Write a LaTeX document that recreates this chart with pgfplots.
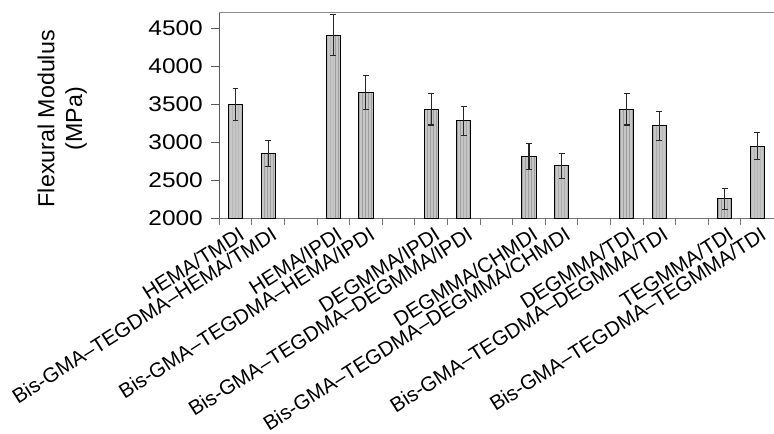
\documentclass[border=0pt]{standalone}
\usepackage{fontspec}
\setmainfont{Liberation Sans}
\newfontfamily\tickfont[FakeStretch=1.15]{Liberation Sans}
\usepackage{pgfplots}
\pgfplotsset{compat=1.18}
\usetikzlibrary{patterns,calc}
\pgfplotstableread{
x y e
0 3494 212
1 2850 170
3 4409 265
4 3655 220
6 3434 208
7 3282 193
9 2815 170
10 2689 160
12 3434 208
13 3217 190
15 2256 135
16 2949 180
}\datatab
\begin{document}
\begin{tikzpicture}
\begin{axis}[
  scale only axis,
  width=560.6pt, height=207.8pt,
  xmin=-0.5, xmax=16.5,
  ymin=2000, ymax=4700,
  axis x line*=bottom, axis y line*=left,
  x axis line style={draw=black!55, line width=1pt},
  y axis line style={draw=black!65, line width=1pt},
  tick align=outside,
  ytick={2000,2500,...,4500},
  major tick length=8pt,
  ytick style={draw=black!65, line width=1pt},
  yticklabel style={font=\tickfont\fontsize{21.5}{26}\selectfont, /pgf/number format/1000 sep={}, xshift=-5pt},
  /pgf/number format/assume math mode=true,
  xtick={0,1,3,4,6,7,9,10,12,13,15,16},
  xticklabels={HEMA/TMDI, Bis-GMA–TEGDMA–HEMA/TMDI, HEMA/IPDI, Bis-GMA–TEGDMA–HEMA/IPDI, DEGMMA/IPDI, Bis-GMA–TEGDMA–DEGMMA/IPDI, DEGMMA/CHMDI, Bis-GMA–TEGDMA–DEGMMA/CHMDI, DEGMMA/TDI, Bis-GMA–TEGDMA–DEGMMA/TDI, TEGMMA/TDI, Bis-GMA–TEGDMA–TEGMMA/TDI},
  xtick style={draw=none},
  xticklabel style={rotate=32.5, anchor=north east, font=\fontsize{20.8}{24}\selectfont, inner sep=1pt, xshift=3pt},
  extra x ticks={-0.5,0.5,...,15.5},
  extra x tick labels={},
  extra x tick style={xtick style={draw=black!55, line width=1pt}, major tick length=7pt},
  ylabel={Flexural Modulus\\(MPa)},
  ylabel style={align=center, font=\fontsize{23.5}{28}\selectfont, at={(rel axis cs:-0.2831,0.4846)}, anchor=center},
]
\addplot[ybar, bar width=14.3pt, bar shift=0pt, draw=black, line width=1pt, fill=gray!45,
  postaction={pattern=vertical lines, pattern color=black!38},
  error bars/.cd, y dir=both, y explicit,
  error bar style={black!85, line width=1.1pt},
  error mark options={rotate=90, mark size=3pt, black!85, line width=1.1pt}]
  table[x=x, y=y, y error=e] {\datatab};
\coordinate (bl) at (rel axis cs:0,0);
\coordinate (tl) at (rel axis cs:0,1);
\coordinate (tr) at (rel axis cs:1,1);
\end{axis}
\draw[black!45, line width=1pt] (tl) -- (tr);
\path[use as bounding box] ($(bl)+(-221.7pt,-217.3pt)$) rectangle ($(tl)+(552.3pt,13pt)$);
\end{tikzpicture}
\end{document}
